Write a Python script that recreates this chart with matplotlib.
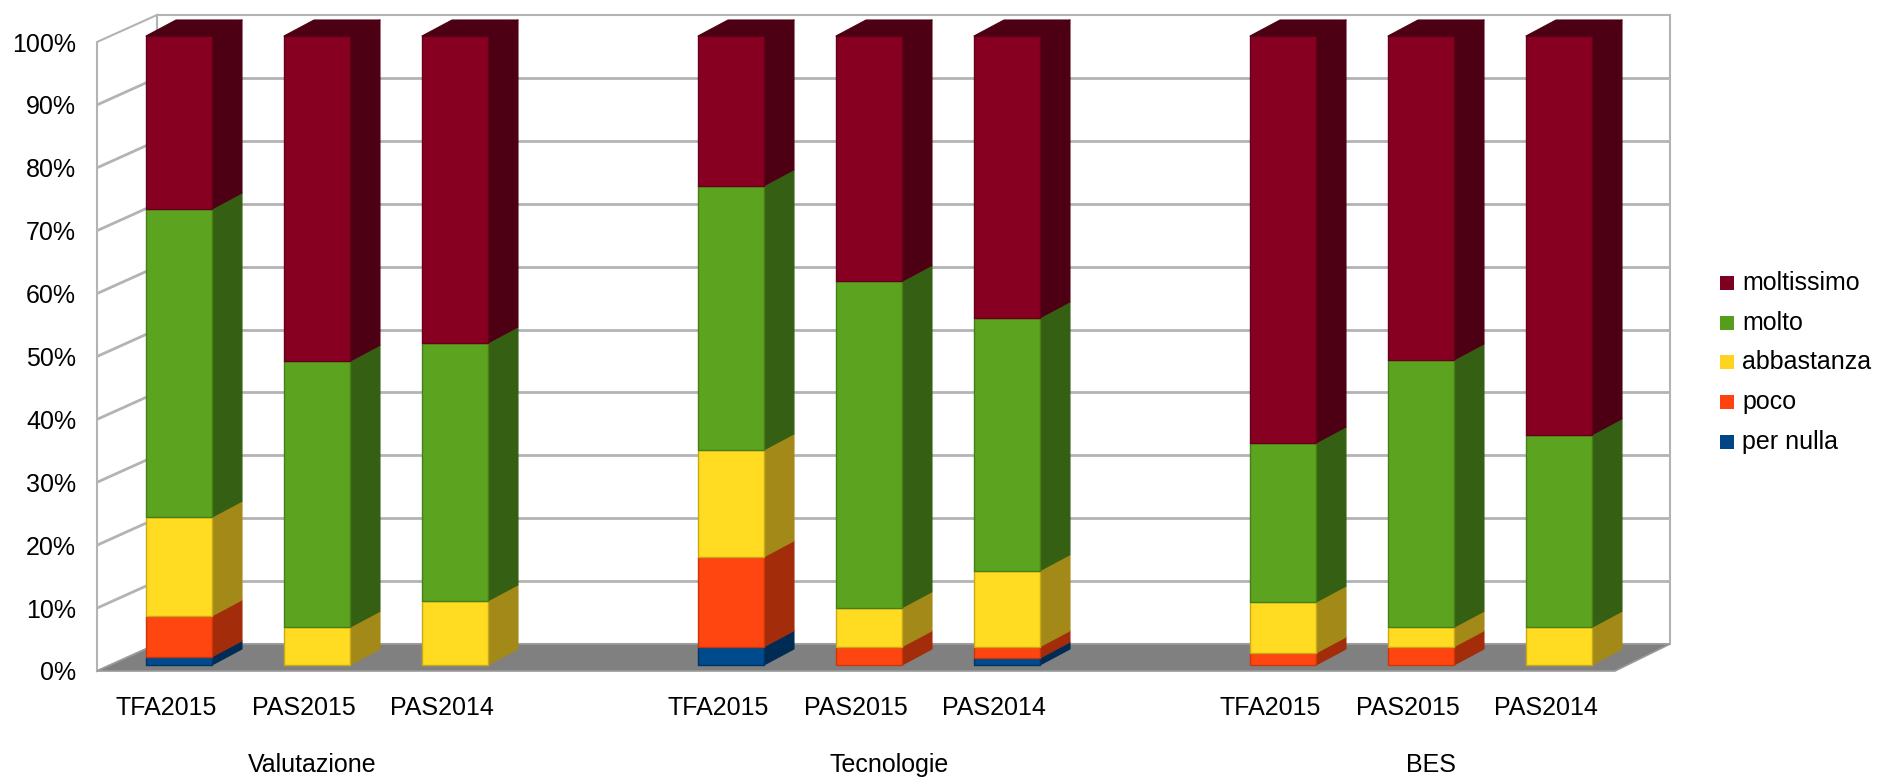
import matplotlib
matplotlib.use("Agg")
import matplotlib.pyplot as plt
from matplotlib.patches import Polygon, Rectangle
import numpy as np

plt.rcParams['font.family'] = ['Liberation Sans', 'DejaVu Sans']

# ---------------- data ----------------
groups = ['Valutazione', 'Tecnologie', 'BES']
courses = ['TFA2015', 'PAS2015', 'PAS2014']
series_names = ['per nulla', 'poco', 'abbastanza', 'molto', 'moltissimo']

per_nulla  = [1.3, 0.0, 0.0, 2.9, 0.0, 1.1, 0.0, 0.0, 0.0]
poco       = [6.5, 0.0, 0.0, 14.3, 2.9, 1.8, 1.9, 2.9, 0.0]
abbastanza = [15.7, 6.0, 10.2, 17.0, 6.2, 12.1, 8.1, 3.1, 6.0]
molto      = [49.0, 42.3, 41.0, 42.0, 51.9, 40.2, 25.3, 42.5, 30.6]
moltissimo = [27.5, 51.7, 48.8, 23.8, 39.0, 44.8, 64.7, 51.5, 63.4]

series_values = [per_nulla, poco, abbastanza, molto, moltissimo]
y_ticks = [0, 10, 20, 30, 40, 50, 60, 70, 80, 90, 100]
y_tick_labels = ['0%', '10%', '20%', '30%', '40%', '50%', '60%', '70%', '80%', '90%', '100%']

# ---------------- style ----------------
legend_colors = ['#004586', '#ff420e', '#ffd320', '#579d1c', '#7e0021']
front_colors = ['#004b8d', '#ff4610', '#ffdb21', '#5ca41f', '#870022']
side_colors = ['#002b55', '#a32c0a', '#a38917', '#355f12', '#4d0014']
edge_colors = ['#003466', '#c8360c', '#c9a91a', '#467f17', '#640019']
grid_color = '#b3b3b3'

W, H = 1878, 779
fig = plt.figure(figsize=(W / 100, H / 100), dpi=100)
ax = fig.add_axes([97 / W, 1 - 671 / H, (1615 - 97) / W, (671 - 42) / H])
ax.set_xlim(-0.5, 10.5)
ax.set_ylim(0, 100)
ax.patch.set_visible(False)
for s in ax.spines.values():
    s.set_visible(False)
ax.set_xticks([])
ax.set_yticks(y_ticks, y_tick_labels)
ax.tick_params(axis='y', length=0, pad=15, labelsize=18, labelcolor='#000000')

# category positions (three groups with a gap)
positions = []
for g in range(len(groups)):
    for c in range(len(courses)):
        positions.append(g * 4 + c)

inv = ax.transData.inverted()


def P(x, y, ox=0.0, oy=0.0):
    d = ax.transData.transform((x, y)) + np.array([ox, oy])
    return inv.transform(d)


def poly(pts, **kw):
    p = Polygon(pts, closed=True, clip_on=False, **kw)
    ax.add_patch(p)
    return p


def seg(a, b, **kw):
    ax.plot([a[0], b[0]], [a[1], b[1]], clip_on=False, solid_capstyle='butt', **kw)


x0, x1 = ax.get_xlim()
BL = (60, 27)   # back offset, left side
BR = (55, 27)   # back offset, right side

# back wall
poly([P(x0, 0, *BL), P(x1, 0, *BR), P(x1, 100, *BR), P(x0, 100, *BL)],
     facecolor='white', edgecolor=grid_color, lw=1.5, zorder=1)
# left wall
poly([P(x0, 0), P(x0, 0, *BL), P(x0, 100, *BL), P(x0, 100)],
     facecolor='white', edgecolor=grid_color, lw=1.5, zorder=1)
for v in y_ticks[1:-1]:
    seg(P(x0, v, *BL), P(x1, v, *BR), color=grid_color, lw=2, zorder=1.5)
    seg(P(x0, v), P(x0, v, *BL), color=grid_color, lw=2, zorder=1.5)
# floor
poly([P(x0, 0), P(x1, 0), P(x1, 0, *BR), P(x0, 0, *BL)],
     facecolor='#808080', edgecolor='#9a9a9a', lw=1.2, zorder=2)

# bars
FO = np.array([13, 6])     # bar front offset
BK = FO + np.array([30, 16])  # bar back offset
half = 0.239
for i, pos in enumerate(positions):
    bottom = 0.0
    vals = [s[i] for s in series_values]
    top_idx = max(k for k, v in enumerate(vals) if v > 0)
    for k, v in enumerate(vals):
        if v <= 0:
            continue
        y0, y1 = bottom, bottom + v
        xl, xr = pos - half, pos + half
        poly([P(xr, y0, *FO), P(xr, y0, *BK), P(xr, y1, *BK), P(xr, y1, *FO)],
             facecolor=side_colors[k], edgecolor=side_colors[k], lw=0.8,
             joinstyle='round', zorder=3)
        poly([P(xl, y0, *FO), P(xr, y0, *FO), P(xr, y1, *FO), P(xl, y1, *FO)],
             facecolor=front_colors[k], edgecolor=edge_colors[k], lw=1.0,
             joinstyle='round', zorder=4)
        if k == top_idx:
            poly([P(xl, y1, *FO), P(xr, y1, *FO), P(xr, y1, *BK), P(xl, y1, *BK)],
                 facecolor=side_colors[k], edgecolor=side_colors[k], lw=0.8,
                 joinstyle='round', zorder=4)
        bottom = y1

# category labels
for i, pos in enumerate(positions):
    ax.annotate(courses[i % 3], xy=(pos, 0), xycoords=('data', 'axes fraction'),
                xytext=(0, -37), textcoords='offset pixels', ha='center', va='center',
                fontsize=18, color='#000000')
group_label_pos = [1.06, 5.24, 9.17]
for g, name in enumerate(groups):
    ax.annotate(name, xy=(group_label_pos[g], 0), xycoords=('data', 'axes fraction'),
                xytext=(0, -94), textcoords='offset pixels', ha='center', va='center',
                fontsize=18, color='#000000')

# legend (top to bottom: moltissimo ... per nulla)
leg_y0 = 283
for j, k in enumerate(range(len(series_names) - 1, -1, -1)):
    yc = leg_y0 + j * 39.7
    fig.patches.append(Rectangle((1720 / W, 1 - (yc + 7) / H), 14 / W, 14 / H,
                                 transform=fig.transFigure, facecolor=legend_colors[k],
                                 edgecolor='none'))
    fig.text(1742 / W, 1 - yc / H, series_names[k], ha='left', va='center',
             fontsize=18, color='#000000')

fig.savefig('out.png', dpi=100, facecolor='white')
